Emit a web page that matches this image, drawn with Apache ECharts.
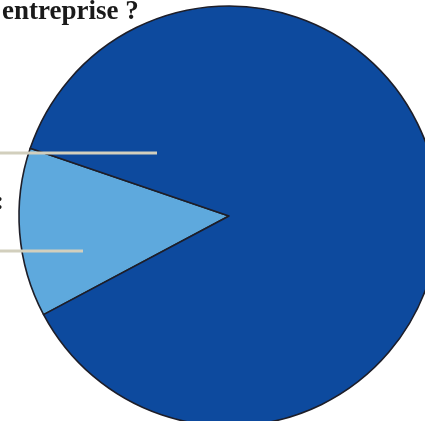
<!DOCTYPE html>
<html>
<head>
<meta charset="utf-8">
<script src="https://cdn.jsdelivr.net/npm/echarts@6/dist/echarts.min.js"></script>
<style>html,body{margin:0;padding:0;background:#fff;}#c{width:425px;height:421px;}</style>
</head>
<body>
<div id="c"></div>
<script>
const titleText = 'entreprise ?';
const categories = ['Réponse A', 'Réponse B'];
const values = [13, 87];
const sliceColors = ['#5ea9dd', '#0d4a9e'];

const chart = echarts.init(document.getElementById('c'), null, {renderer: 'canvas'});
chart.setOption({
  animation: false,
  backgroundColor: '#ffffff',
  title: {
    text: titleText,
    left: 2,
    top: -1,
    padding: 0,
    textStyle: {fontFamily: 'Liberation Serif', fontWeight: 'bold', fontSize: 27, color: '#1a1a1a'}
  },
  series: [{
    type: 'pie',
    center: [229, 216],
    radius: 210,
    startAngle: 208,
    clockwise: true,
    silent: true,
    label: {show: false},
    labelLine: {show: false},
    itemStyle: {borderColor: '#1e1e28', borderWidth: 1.6},
    data: categories.map((n, i) => ({name: n, value: values[i], itemStyle: {color: sliceColors[i]}}))
  }],
  graphic: [
    {type: 'line', shape: {x1: 0, y1: 153, x2: 157, y2: 153}, style: {stroke: '#d2cfbd', lineWidth: 3}, z: 10},
    {type: 'line', shape: {x1: 0, y1: 251, x2: 83, y2: 251}, style: {stroke: '#d2cfbd', lineWidth: 3}, z: 10},
    {type: 'text', x: 4, y: 189, style: {text: ':', align: 'right', verticalAlign: 'top', font: 'bold 26px Liberation Serif', fill: '#1a1a1a'}, z: 10}
  ]
});
</script>
</body>
</html>
